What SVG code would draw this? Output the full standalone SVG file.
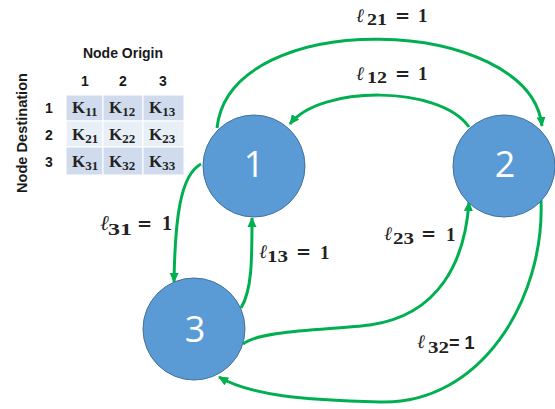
<svg xmlns="http://www.w3.org/2000/svg" width="555" height="409" viewBox="0 0 555 409">
<defs>
<style>
.node{fill:#5B9BD5;stroke:#41719C;stroke-width:1}
.num{fill:#fff;font-family:"Open Sans","Liberation Sans",sans-serif;font-size:36px;text-anchor:middle}
.edge{fill:none;stroke:#00B050;stroke-width:3}
.hdr{font-family:"Liberation Sans",Arial,sans-serif;font-weight:bold;font-size:14px;fill:#1a1a1a}
.k{font-family:"Liberation Serif","Times New Roman",serif;font-weight:bold;font-size:17px;fill:#222}
.ks{font-size:13px}
.ell{font-family:"DejaVu Serif","Liberation Serif",serif;font-style:italic;font-size:19px;fill:#222}
.sub{font-family:"Liberation Serif","Times New Roman",serif;font-weight:bold;font-size:16px;fill:#222}
.eq{font-family:"DejaVu Serif",serif;font-weight:bold;font-size:18px;fill:#222}
.one{font-family:"Liberation Serif","Times New Roman",serif;font-weight:bold;font-size:19px;fill:#222}
.r1{fill:#D0DCEE}
.r2{fill:#E9EFF7}
</style>
<marker id="ah" viewBox="0 0 10 10" refX="9" refY="5" markerWidth="10" markerHeight="10" markerUnits="userSpaceOnUse" orient="auto">
<path d="M0,0.5 L10,5 L0,9.5 Z" fill="#00B050"/>
</marker>
</defs>
<rect width="555" height="409" fill="#fff"/>

<g id="matrix">
<text class="hdr" x="123" y="58" text-anchor="middle">Node Origin</text>
<text class="hdr" transform="translate(27,133) rotate(-90)" text-anchor="middle" textLength="120" lengthAdjust="spacingAndGlyphs">Node Destination</text>
<text class="hdr" x="85" y="86" text-anchor="middle">1</text>
<text class="hdr" x="123" y="86" text-anchor="middle">2</text>
<text class="hdr" x="163" y="86" text-anchor="middle">3</text>
<text class="hdr" x="49" y="113" text-anchor="middle">1</text>
<text class="hdr" x="49" y="140" text-anchor="middle">2</text>
<text class="hdr" x="49" y="167" text-anchor="middle">3</text>
<g stroke="#fff" stroke-width="1">
<rect class="r1" x="66" y="95" width="37" height="26"/>
<rect class="r1" x="103" y="95" width="40" height="26"/>
<rect class="r1" x="143" y="95" width="41" height="26"/>
<rect class="r2" x="66" y="121" width="37" height="26"/>
<rect class="r2" x="103" y="121" width="40" height="26"/>
<rect class="r2" x="143" y="121" width="41" height="26"/>
<rect class="r1" x="66" y="147" width="37" height="28"/>
<rect class="r1" x="103" y="147" width="40" height="28"/>
<rect class="r1" x="143" y="147" width="41" height="28"/>
</g>
<text class="k" x="72" y="113">K<tspan class="ks" dy="3">11</tspan></text>
<text class="k" x="109" y="113">K<tspan class="ks" dy="3">12</tspan></text>
<text class="k" x="149" y="113">K<tspan class="ks" dy="3">13</tspan></text>
<text class="k" x="72" y="140">K<tspan class="ks" dy="3">21</tspan></text>
<text class="k" x="109" y="140">K<tspan class="ks" dy="3">22</tspan></text>
<text class="k" x="149" y="140">K<tspan class="ks" dy="3">23</tspan></text>
<text class="k" x="72" y="167">K<tspan class="ks" dy="3">31</tspan></text>
<text class="k" x="109" y="167">K<tspan class="ks" dy="3">32</tspan></text>
<text class="k" x="149" y="167">K<tspan class="ks" dy="3">33</tspan></text>
</g>

<g id="connectors">
<path id="e21" class="edge" d="M217,128 C230,5 530,15 542,126" marker-end="url(#ah)"/>
<path id="e12" class="edge" d="M469,127 C440,85 320,85 290,124" marker-end="url(#ah)"/>
<path id="e31" class="edge" d="M201,164 C180,175 175,220 174,282" marker-end="url(#ah)"/>
<path id="e13" class="edge" d="M241,308 C252,290 252,260 252,218" marker-end="url(#ah)"/>
<path id="e23" class="edge" d="M243,344 C260,330 330,330 370,325 C440,315 465,260 469,202" marker-end="url(#ah)"/>
<path id="e32" class="edge" d="M541,200 C545,300 480,405 380,402 C300,400 250,395 219,377" marker-end="url(#ah)"/>
</g>

<g id="labels">
<g id="l21"><text class="ell" x="356" y="22">ℓ</text><text class="sub" x="367" y="25" textLength="20" lengthAdjust="spacingAndGlyphs">21</text><text class="eq" x="395" y="22">=</text><text class="one" x="418" y="22">1</text></g>
<g id="l12"><text class="ell" x="356" y="80">ℓ</text><text class="sub" x="367" y="83" textLength="20" lengthAdjust="spacingAndGlyphs">12</text><text class="eq" x="395" y="80">=</text><text class="one" x="418" y="80">1</text></g>
<g id="l31"><text class="ell" x="100" y="230" style="font-size:21px">ℓ</text><text class="sub" x="108" y="235" textLength="24" lengthAdjust="spacingAndGlyphs">31</text><text class="eq" x="137" y="230">=</text><text class="one" x="162" y="230" style="font-size:20px">1</text></g>
<g id="l13"><text class="ell" x="259" y="258">ℓ</text><text class="sub" x="267" y="262" textLength="21" lengthAdjust="spacingAndGlyphs">13</text><text class="eq" x="296" y="258">=</text><text class="one" x="320" y="259">1</text></g>
<g id="l23"><text class="ell" x="384" y="240">ℓ</text><text class="sub" x="393" y="244" textLength="21" lengthAdjust="spacingAndGlyphs">23</text><text class="eq" x="421" y="240">=</text><text class="one" x="446" y="241">1</text></g>
<g id="l32"><text class="ell" x="417" y="348">ℓ</text><text class="sub" x="428" y="353" textLength="21" lengthAdjust="spacingAndGlyphs">32</text><text x="449" y="349" style="font-family:'Liberation Sans',Arial,sans-serif;font-weight:bold;font-size:18px;fill:#222">= 1</text></g>
</g>

<g id="node1"><circle class="node" cx="254" cy="166" r="51"/><text class="num" x="254" y="177">1</text></g>
<g id="node2"><circle class="node" cx="504" cy="166" r="51"/><text class="num" x="505" y="177">2</text></g>
<g id="node3"><circle class="node" cx="194" cy="329" r="51"/><text class="num" x="195" y="342">3</text></g>
</svg>
